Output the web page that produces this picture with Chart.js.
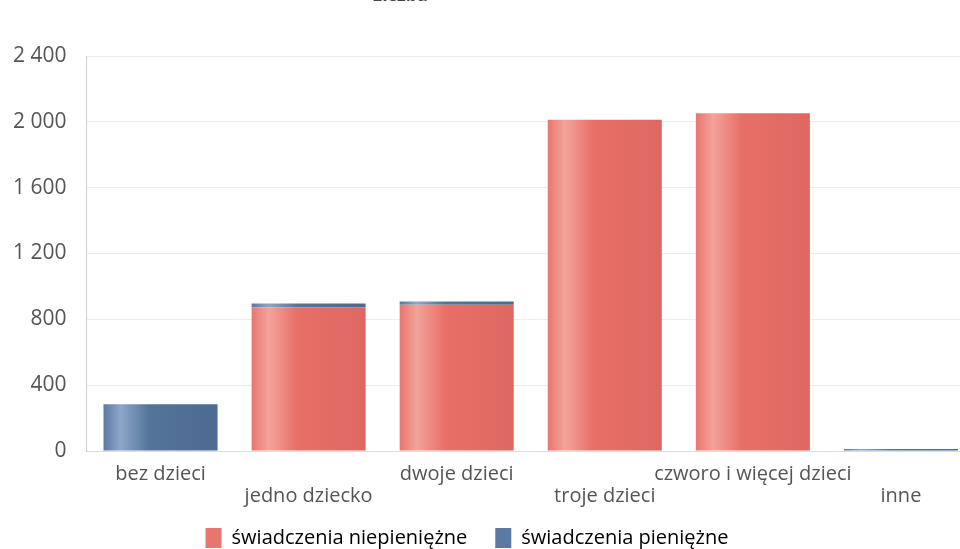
<!DOCTYPE html>
<html>
<head>
<meta charset="utf-8">
<script src="https://cdn.jsdelivr.net/npm/chart.js@4.4.1/dist/chart.umd.min.js"></script>
<style>
  html,body{margin:0;padding:0;background:#fff;overflow:hidden;}
  #wrap{position:absolute;left:0;top:0;width:975px;height:549px;}
</style>
</head>
<body>
<div id="wrap"><canvas id="chart" width="975" height="549"></canvas></div>
<script>
const categories = ['bez dzieci','jedno dziecko','dwoje dzieci','troje dzieci','czworo i więcej dzieci','inne'];
const niepieniezne = [0, 872, 888, 2012, 2052, 0];
const pieniezne = [284, 24, 20, 0, 0, 12];
const yTicks = [0, 400, 800, 1200, 1600, 2000, 2400];

const RED = ['#e8766e','#f2a39b','#e86f68','#dd6862'];
const BLUE = ['#5a79a3','#8ea6c8','#557499','#4c6a92'];

// odd labels pushed one line down, as on the original
const xLabels = categories.map((c,i)=> i%2 ? ['',c] : c);

function shine(cols){
  return function(ctx){
    const chart = ctx.chart;
    if(!chart.chartArea) return cols[0];
    const x = chart.scales.x.getPixelForValue(ctx.dataIndex);
    const w = (chart.chartArea.width/categories.length)*0.77;
    const g = chart.ctx.createLinearGradient(x-w/2,0,x+w/2,0);
    g.addColorStop(0, cols[0]);
    g.addColorStop(0.15, cols[1]);
    g.addColorStop(0.4, cols[2]);
    g.addColorStop(1, cols[3]);
    return g;
  };
}

const titleStub = {
  id:'titleStub',
  afterLayout(chart){
    // legend sits a bit lower and left in the original
    const lg = chart.legend;
    lg.top += 9; lg.bottom += 9;
    lg.left -= 17; lg.right -= 17;
  },
  afterDraw(chart){
    const c = chart.ctx;
    c.save();
    c.font = 'bold 18px "Open Sans"';
    c.fillStyle = '#444';
    c.textAlign = 'left';
    c.textBaseline = 'alphabetic';
    c.fillText('Liczba', 372, 1);
    c.restore();
  }
};

new Chart(document.getElementById('chart'),{
  type:'bar',
  data:{
    labels:xLabels,
    datasets:[{
      label:'świadczenia niepieniężne',
      data:niepieniezne,
      backgroundColor:shine(RED),
      borderWidth:0,
      categoryPercentage:0.77,
      barPercentage:1
    },{
      label:'świadczenia pieniężne',
      data:pieniezne,
      backgroundColor:shine(BLUE),
      borderWidth:0,
      categoryPercentage:0.77,
      barPercentage:1
    }]
  },
  options:{
    responsive:false,
    animation:false,
    layout:{padding:{top:56,left:-7,right:0,bottom:0}},
    scales:{
      x:{
        stacked:true,
        grid:{display:false},
        border:{display:true,color:'#dcdcdc'},
        ticks:{
          color:'#555',
          font:{family:'"Open Sans"',size:20,lineHeight:1.1},
          padding:4,
          maxRotation:0,
          autoSkip:false
        }
      },
      y:{
        stacked:true,
        min:0,
        max:2400,
        afterBuildTicks(axis){ axis.ticks = yTicks.map(v=>({value:v})); },
        grid:{color:'rgba(0,0,0,0.07)',drawTicks:false},
        border:{display:true,color:'#cfcfcf',dash:[]},
        ticks:{
          color:'#555',
          font:{family:'"Open Sans"',size:21},
          padding:20,
          callback:v=> String(v).replace(/\B(?=(\d{3})+(?!\d))/g,' ')
        }
      }
    },
    plugins:{
      legend:{
        position:'bottom',
        labels:{
          color:'#555',
          font:{family:'"Open Sans"',size:20},
          boxWidth:16,
          boxHeight:20,
          padding:8,
          generateLabels(chart){
            return chart.data.datasets.map((d,i)=>({
              text: i===0 ? d.label+'\u2003' : d.label,
              fillStyle:[RED[0],BLUE[0]][i],
              strokeStyle:'transparent',
              lineWidth:0,
              datasetIndex:i,
              hidden:false
            }));
          }
        }
      },
      tooltip:{enabled:false}
    }
  },
  plugins:[titleStub]
});
</script>
</body>
</html>
